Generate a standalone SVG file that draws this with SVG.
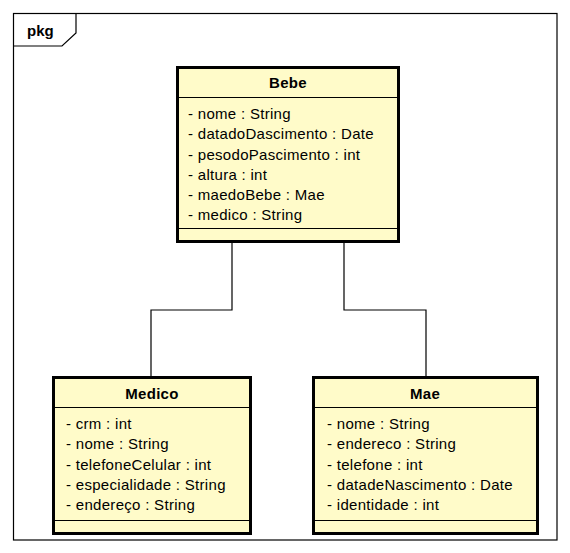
<svg xmlns="http://www.w3.org/2000/svg" width="570" height="553" viewBox="0 0 570 553">
<style>
.frame{fill:none;stroke:#000;stroke-width:1.2}
.box{fill:#FFFBC9;stroke:#000;stroke-width:3}
.sep{stroke:#000;stroke-width:1}
.conn{fill:none;stroke:#000;stroke-width:1.2}
.title{font-family:"Liberation Sans",Arial,sans-serif;font-size:15px;font-weight:bold;text-anchor:middle;fill:#000;letter-spacing:0.3px}
.attr{font-family:"Liberation Sans",Arial,sans-serif;font-size:15px;fill:#000;letter-spacing:0.3px}
.pkg{font-family:"Liberation Sans",Arial,sans-serif;font-size:15px;font-weight:bold;fill:#000}
</style>
<rect width="570" height="553" fill="#fff"/>
<g id="package">
<rect class="frame" x="13.5" y="13.5" width="543.5" height="526.5"/>
<path class="frame" d="M13.5,46 H62 L76,33 V13.5"/>
<text class="pkg" x="27" y="36">pkg</text>
</g>
<g id="connectors">
<path class="conn" d="M232,242 V310 H151 V377"/>
<path class="conn" d="M344,242 V310 H426 V377"/>
</g>
<g id="Bebe">
<rect class="box" x="177.5" y="67.5" width="221" height="174"/>
<line class="sep" x1="179" y1="97.5" x2="397" y2="97.5"/>
<line class="sep" x1="179" y1="228.5" x2="397" y2="228.5"/>
<text class="title" x="288" y="88">Bebe</text>
<text class="attr" x="188" y="119">- nome : String</text>
<text class="attr" x="188" y="139">- datadoDascimento : Date</text>
<text class="attr" x="188" y="160">- pesodoPascimento : int</text>
<text class="attr" x="188" y="180">- altura : int</text>
<text class="attr" x="188" y="200">- maedoBebe : Mae</text>
<text class="attr" x="188" y="220">- medico : String</text>
</g>
<g id="Medico">
<rect class="box" x="53.5" y="377.5" width="197" height="156"/>
<line class="sep" x1="55" y1="407.5" x2="249" y2="407.5"/>
<line class="sep" x1="55" y1="520.5" x2="249" y2="520.5"/>
<text class="title" x="152" y="399">Medico</text>
<text class="attr" x="66" y="429">- crm : int</text>
<text class="attr" x="66" y="449">- nome : String</text>
<text class="attr" x="66" y="470">- telefoneCelular : int</text>
<text class="attr" x="66" y="490">- especialidade : String</text>
<text class="attr" x="66" y="510">- endereço : String</text>
</g>
<g id="Mae">
<rect class="box" x="313.5" y="377.5" width="224" height="156"/>
<line class="sep" x1="315" y1="407.5" x2="536" y2="407.5"/>
<line class="sep" x1="315" y1="520.5" x2="536" y2="520.5"/>
<text class="title" x="425" y="399">Mae</text>
<text class="attr" x="327" y="429">- nome : String</text>
<text class="attr" x="327" y="449">- endereco : String</text>
<text class="attr" x="327" y="470">- telefone : int</text>
<text class="attr" x="327" y="490">- datadeNascimento : Date</text>
<text class="attr" x="327" y="510">- identidade : int</text>
</g>
</svg>
